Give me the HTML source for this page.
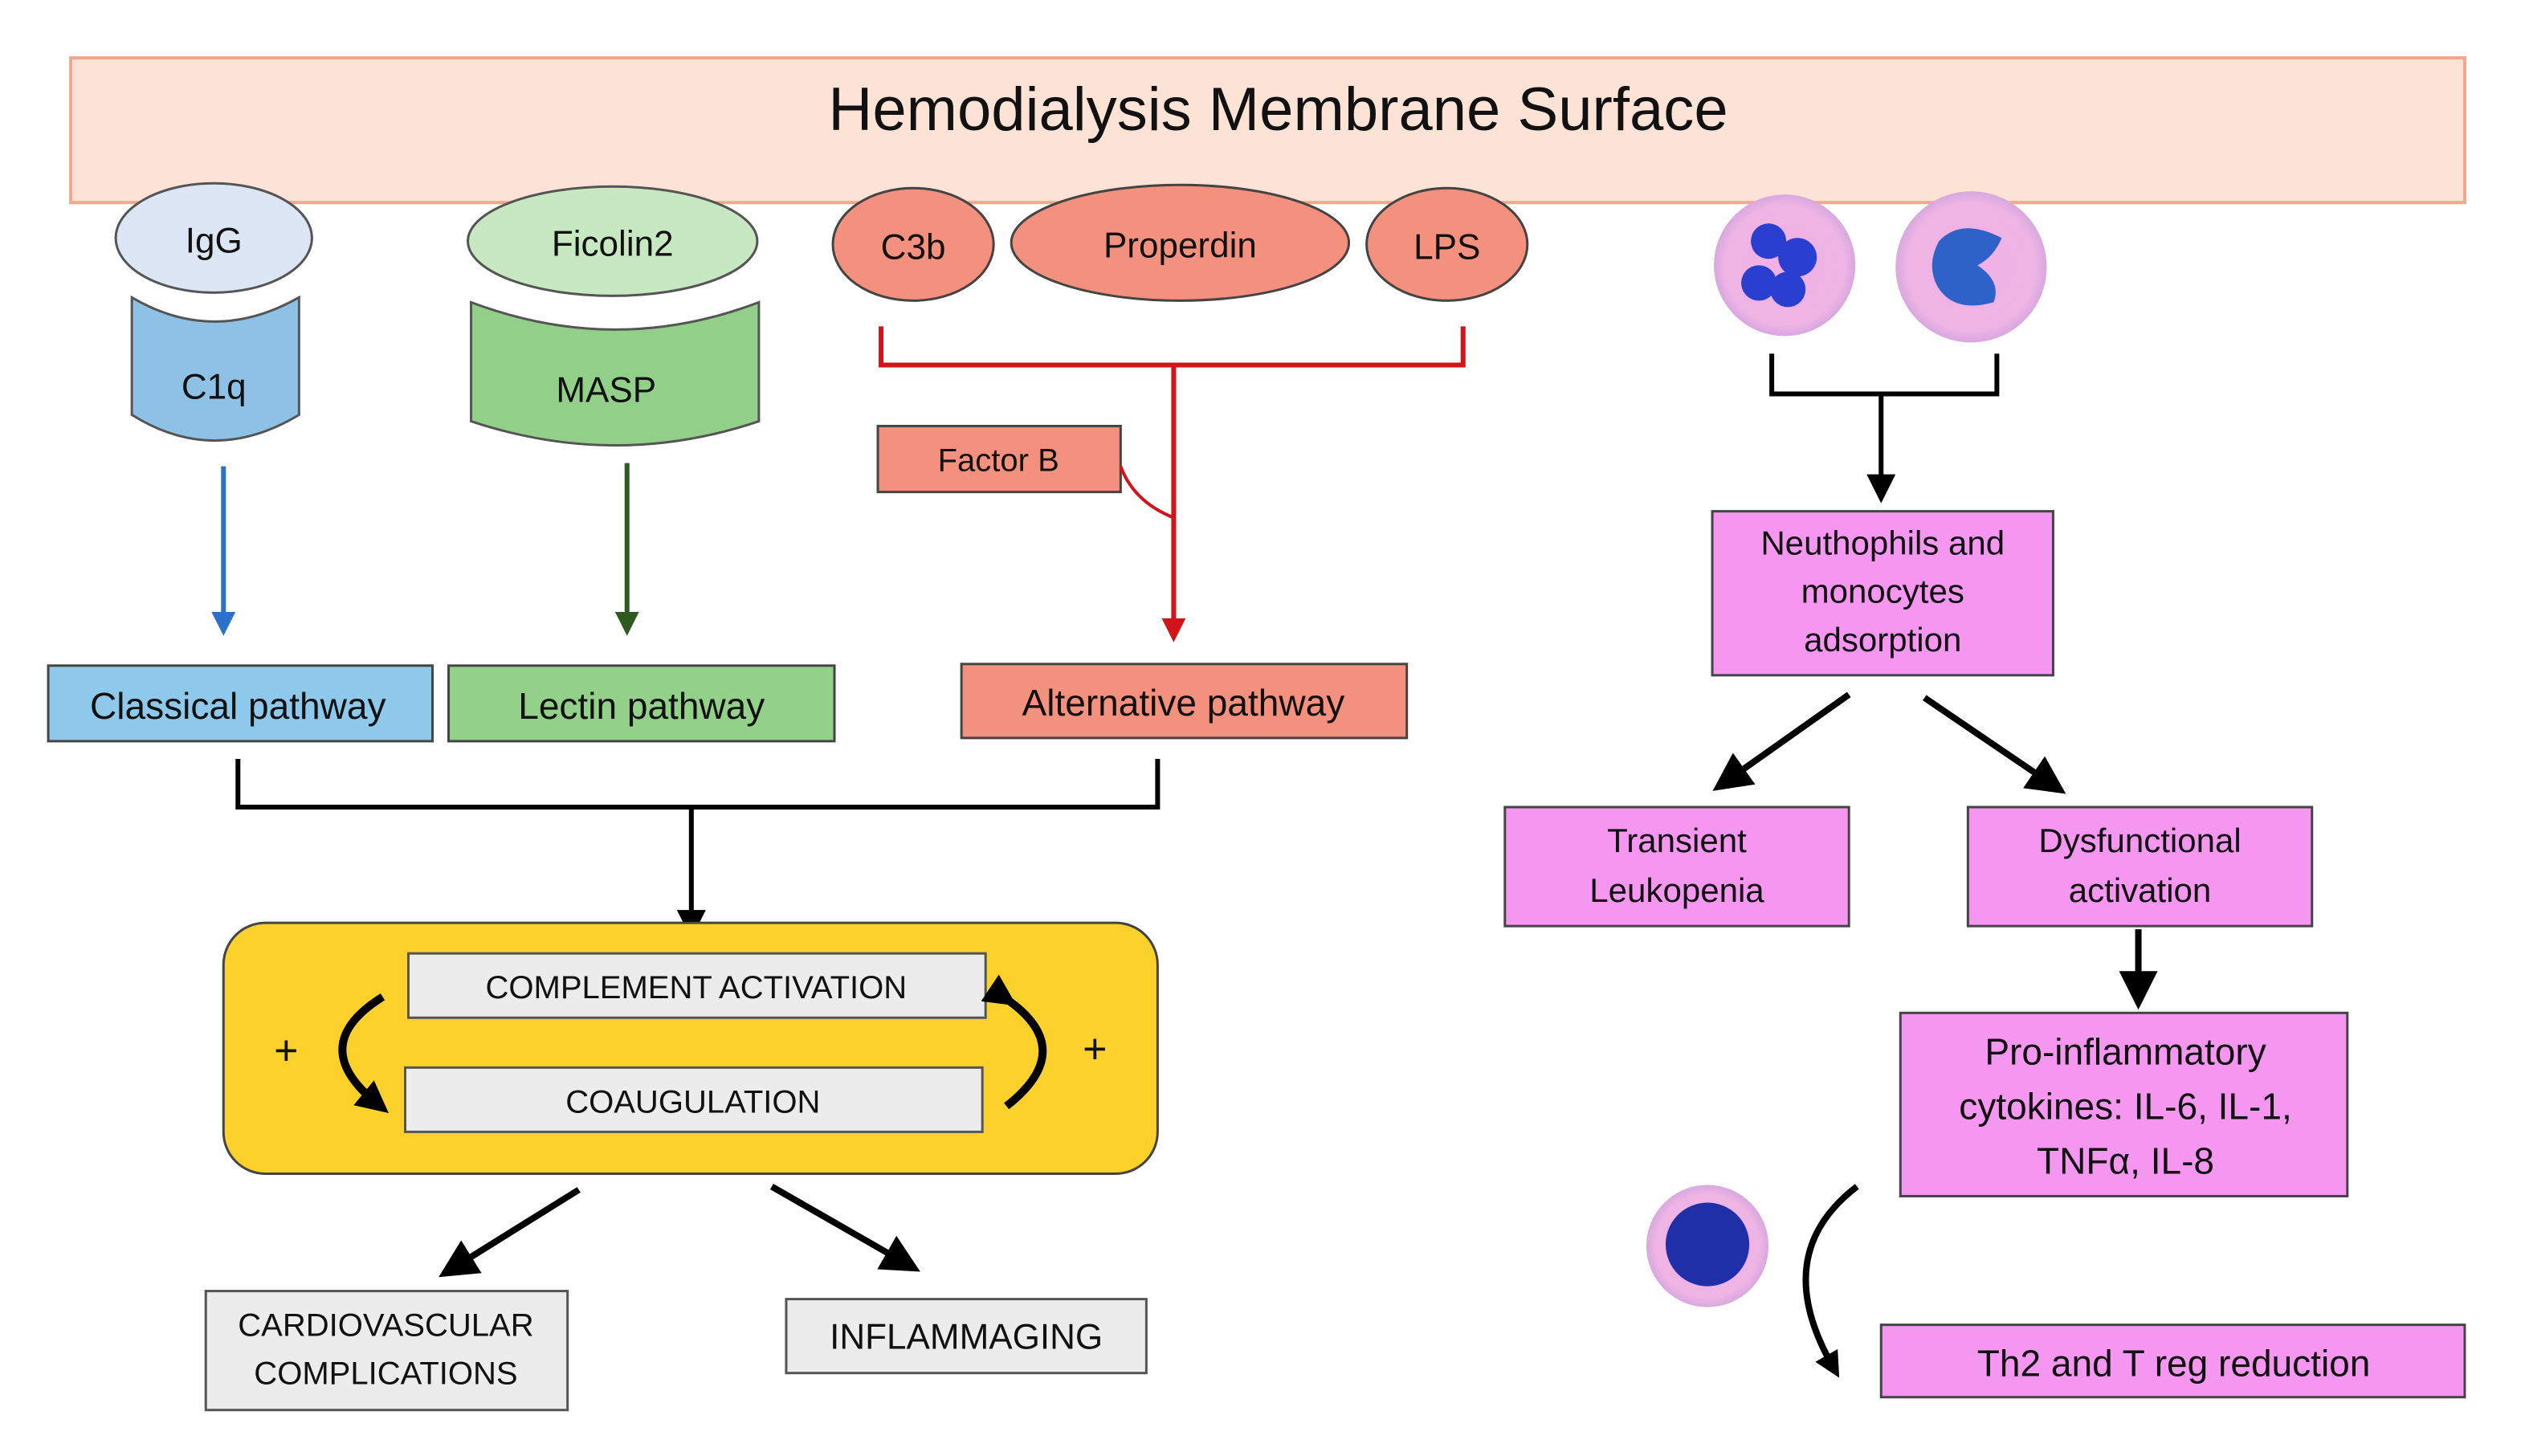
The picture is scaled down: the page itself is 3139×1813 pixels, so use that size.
<!DOCTYPE html>
<html><head><meta charset="utf-8"><style>
html,body{margin:0;padding:0;background:#fff;}
svg{display:block;}
text{font-family:"Liberation Sans",sans-serif;fill:#111;}
</style></head><body>
<svg width="3139" height="1813" viewBox="0 0 1568 905.6" preserveAspectRatio="none" xmlns="http://www.w3.org/2000/svg">
<defs>
<marker id="ab" markerWidth="6" markerHeight="6" refX="3" refY="3" orient="auto" markerUnits="strokeWidth"><path d="M0,0 L6,3 L0,6 z" fill="#000"/></marker>
<marker id="abs" markerWidth="4" markerHeight="4" refX="2" refY="2" orient="auto" markerUnits="strokeWidth"><path d="M0,0 L4,2 L0,4 z" fill="#000"/></marker>
<marker id="ablue" markerWidth="5" markerHeight="5" refX="2.5" refY="2.5" orient="auto" markerUnits="strokeWidth"><path d="M0,0 L5,2.5 L0,5 z" fill="#2a72c8"/></marker>
<marker id="agreen" markerWidth="5" markerHeight="5" refX="2.5" refY="2.5" orient="auto" markerUnits="strokeWidth"><path d="M0,0 L5,2.5 L0,5 z" fill="#2d5a1f"/></marker>
<marker id="ared" markerWidth="5" markerHeight="5" refX="2.5" refY="2.5" orient="auto" markerUnits="strokeWidth"><path d="M0,0 L5,2.5 L0,5 z" fill="#d0141a"/></marker>
<radialGradient id="cell" cx="50%" cy="50%" r="50%"><stop offset="0" stop-color="#f2b0e6"/><stop offset="0.85" stop-color="#eeb4e4"/><stop offset="1" stop-color="#d8a8e0"/></radialGradient>
</defs>
<rect x="44" y="36" width="1489" height="90" fill="#fde2d6" stroke="#f2a88c" stroke-width="2"/>
<text x="795" y="81" font-size="38" text-anchor="middle" style="font-weight:500">Hemodialysis Membrane Surface</text>

<path d="M82,185 Q133,215 186,185 L186,258 Q133,290 82,258 Z" fill="#8ec1e6" stroke="#555" stroke-width="1.5"/>
<ellipse cx="133" cy="148" rx="61" ry="34" fill="#dce6f4" stroke="#555" stroke-width="1.5"/>
<text x="133" y="157" font-size="22" text-anchor="middle">IgG</text>
<text x="133" y="248" font-size="22" text-anchor="middle">C1q</text>
<path d="M293,188 Q383,222 472,188 L472,262 Q383,292 293,262 Z" fill="#92d08a" stroke="#555" stroke-width="1.5"/>
<ellipse cx="381" cy="150" rx="90" ry="34" fill="#c8e8c2" stroke="#555" stroke-width="1.5"/>
<text x="381" y="159" font-size="22" text-anchor="middle">Ficolin2</text>
<text x="377" y="250" font-size="22" text-anchor="middle">MASP</text>
<ellipse cx="568" cy="152" rx="50" ry="35" fill="#f4907e" stroke="#444" stroke-width="1.5"/>
<ellipse cx="734" cy="151" rx="105" ry="36" fill="#f4907e" stroke="#444" stroke-width="1.5"/>
<ellipse cx="900" cy="152" rx="50" ry="35" fill="#f4907e" stroke="#444" stroke-width="1.5"/>
<text x="568" y="161" font-size="22" text-anchor="middle">C3b</text>
<text x="734" y="160" font-size="22" text-anchor="middle">Properdin</text>
<text x="900" y="161" font-size="22" text-anchor="middle">LPS</text>
<path d="M548,203 L548,227 L910,227 L910,203" fill="none" stroke="#d0141a" stroke-width="3"/>
<line x1="730" y1="227" x2="730" y2="392" stroke="#d0141a" stroke-width="3" marker-end="url(#ared)"/>
<rect x="546" y="265" width="151" height="41" fill="#f4907e" stroke="#444" stroke-width="1.5"/>
<text x="621" y="293" font-size="20" text-anchor="middle">Factor B</text>
<path d="M697,290 Q705,312 730,322" fill="none" stroke="#d0141a" stroke-width="2"/>

<line x1="139" y1="290" x2="139" y2="388" stroke="#2a72c8" stroke-width="3" marker-end="url(#ablue)"/>
<line x1="390" y1="288" x2="390" y2="388" stroke="#2d5a1f" stroke-width="3" marker-end="url(#agreen)"/>

<rect x="30" y="414" width="239" height="47" fill="#8ec8ea" stroke="#444" stroke-width="1.5"/>
<text x="148" y="447" font-size="23" text-anchor="middle">Classical pathway</text>
<rect x="279" y="414" width="240" height="47" fill="#93d08a" stroke="#444" stroke-width="1.5"/>
<text x="399" y="447" font-size="23" text-anchor="middle">Lectin pathway</text>
<rect x="598" y="413" width="277" height="46" fill="#f4907e" stroke="#444" stroke-width="1.5"/>
<text x="736" y="445" font-size="23" text-anchor="middle">Alternative pathway</text>

<path d="M148,472 L148,502 L720,502 L720,472" fill="none" stroke="#000" stroke-width="3"/>
<line x1="430" y1="502" x2="430" y2="575" stroke="#000" stroke-width="3" marker-end="url(#ab)"/>

<rect x="139" y="574" width="581" height="156" rx="26" fill="#fdd12b" stroke="#444" stroke-width="1.5"/>
<rect x="254" y="593" width="359" height="40" fill="#ececec" stroke="#555" stroke-width="1.5"/>
<text x="433" y="621" font-size="20" text-anchor="middle">COMPLEMENT ACTIVATION</text>
<rect x="252" y="664" width="359" height="40" fill="#ececec" stroke="#555" stroke-width="1.5"/>
<text x="431" y="692" font-size="20" text-anchor="middle">COAUGULATION</text>
<path d="M238,620 Q190,650 234,686" fill="none" stroke="#000" stroke-width="5" marker-end="url(#abs)"/>
<path d="M624,620 Q672,652 626,688" fill="none" stroke="#000" stroke-width="5" marker-start="url(#abs)"/>
<text x="178" y="662" font-size="26" text-anchor="middle">+</text>
<text x="681" y="661" font-size="26" text-anchor="middle">+</text>

<line x1="360" y1="740" x2="283" y2="788" stroke="#000" stroke-width="4" marker-end="url(#ab)"/>
<line x1="480" y1="738" x2="562" y2="785" stroke="#000" stroke-width="4" marker-end="url(#ab)"/>
<rect x="128" y="803" width="225" height="74" fill="#ececec" stroke="#555" stroke-width="1.5"/>
<text x="240" y="831" font-size="20" text-anchor="middle">CARDIOVASCULAR</text>
<text x="240" y="861" font-size="20" text-anchor="middle">COMPLICATIONS</text>
<rect x="489" y="808" width="224" height="46" fill="#ececec" stroke="#555" stroke-width="1.5"/>
<text x="601" y="839" font-size="22" text-anchor="middle">INFLAMMAGING</text>

<circle cx="1110" cy="165" r="44" fill="url(#cell)"/>
<circle cx="1100" cy="150" r="11" fill="#2a3fcf"/><circle cx="1118" cy="160" r="12" fill="#2a3fcf"/><circle cx="1094" cy="176" r="11" fill="#2a3fcf"/><circle cx="1112" cy="180" r="11" fill="#2a3fcf"/>
<circle cx="1226" cy="166" r="47" fill="url(#cell)"/>
<path d="M1206,150 Q1220,135 1245,148 Q1240,160 1230,165 Q1245,175 1240,188 Q1215,195 1205,178 Q1198,165 1206,150 Z" fill="#2f62c8"/>

<path d="M1102,220 L1102,245 L1242,245 L1242,220" fill="none" stroke="#000" stroke-width="3"/>
<line x1="1170" y1="245" x2="1170" y2="304" stroke="#000" stroke-width="3" marker-end="url(#ab)"/>
<rect x="1065" y="318" width="212" height="102" fill="#f596f0" stroke="#444" stroke-width="1.5"/>
<text x="1171" y="345" font-size="21" text-anchor="middle">Neuthophils and</text>
<text x="1171" y="375" font-size="21" text-anchor="middle">monocytes</text>
<text x="1171" y="405" font-size="21" text-anchor="middle">adsorption</text>
<line x1="1150" y1="432" x2="1075" y2="485" stroke="#000" stroke-width="4" marker-end="url(#ab)"/>
<line x1="1197" y1="434" x2="1275" y2="487" stroke="#000" stroke-width="4" marker-end="url(#ab)"/>
<rect x="936" y="502" width="214" height="74" fill="#f596f0" stroke="#444" stroke-width="1.5"/>
<text x="1043" y="530" font-size="21" text-anchor="middle">Transient</text>
<text x="1043" y="561" font-size="21" text-anchor="middle">Leukopenia</text>
<rect x="1224" y="502" width="214" height="74" fill="#f596f0" stroke="#444" stroke-width="1.5"/>
<text x="1331" y="530" font-size="21" text-anchor="middle">Dysfunctional</text>
<text x="1331" y="561" font-size="21" text-anchor="middle">activation</text>
<line x1="1330" y1="578" x2="1330" y2="616" stroke="#000" stroke-width="4" marker-end="url(#ab)"/>
<rect x="1182" y="630" width="278" height="114" fill="#f596f0" stroke="#444" stroke-width="1.5"/>
<text x="1322" y="662" font-size="23" text-anchor="middle">Pro-inflammatory</text>
<text x="1322" y="696" font-size="23" text-anchor="middle">cytokines:  IL-6, IL-1,</text>
<text x="1322" y="730" font-size="23" text-anchor="middle">TNFα, IL-8</text>
<circle cx="1062" cy="775" r="38" fill="url(#cell)"/>
<circle cx="1062" cy="774" r="26" fill="#1f2fa8"/>
<path d="M1155,738 Q1100,780 1140,850" fill="none" stroke="#000" stroke-width="4" marker-end="url(#abs)"/>
<rect x="1170" y="824" width="363" height="45" fill="#f596f0" stroke="#444" stroke-width="1.5"/>
<text x="1352" y="856" font-size="23" text-anchor="middle">Th2 and T reg reduction</text>
</svg>
</body></html>
